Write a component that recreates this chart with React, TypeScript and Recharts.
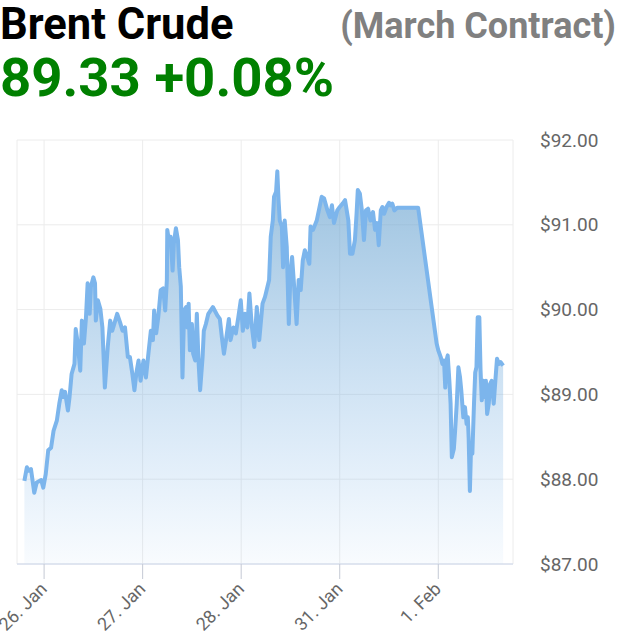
import React from 'react';
import { AreaChart, Area, XAxis, YAxis, CartesianGrid } from 'recharts';

// [hours since 26 Jan session tick, price]
const SESSION_26_JAN: [number, number][] = [
  [-4.8, 87.98], [-4.2, 88.14], [-3.7, 88.10], [-3.2, 88.12], [-2.8, 87.98], [-2.4, 87.84],
  [-1.8, 87.96], [-0.7, 87.99], [-0.2, 87.90], [0.4, 88.06], [1.0, 88.34], [1.7, 88.37],
  [2.3, 88.57], [3.1, 88.69], [3.7, 88.89], [4.3, 89.05], [4.7, 88.97], [5.1, 89.03],
  [5.8, 88.81], [6.2, 88.97], [6.7, 89.24], [7.4, 89.36], [7.7, 89.77], [8.2, 89.60],
  [8.8, 89.28], [9.2, 89.87], [9.7, 89.60], [10.2, 89.91], [10.6, 90.31], [11.1, 89.95],
  [11.4, 90.27], [12.0, 90.38], [12.4, 90.31], [12.6, 89.87], [13.1, 90.11], [13.7, 90.01],
  [14.2, 89.79], [14.8, 89.08], [15.5, 89.56], [16.1, 89.87], [16.6, 89.75], [17.2, 89.85],
  [17.8, 89.95], [18.5, 89.85], [19.1, 89.75], [19.7, 89.79], [20.4, 89.44], [20.9, 89.44],
  [21.5, 89.24], [22.0, 89.05], [22.5, 89.26], [23.0, 89.40], [23.5, 89.16],
];
const SESSION_27_JAN: [number, number][] = [
  [24.2, 89.40], [24.8, 89.20], [25.4, 89.48], [26.0, 89.75], [26.5, 89.64], [26.8, 89.99],
  [27.3, 89.72], [27.8, 89.91], [28.4, 90.23], [29.0, 90.25], [29.5, 89.99], [29.9, 90.35],
  [30.0, 90.94], [30.5, 90.78], [30.8, 90.86], [31.3, 90.46], [31.6, 90.78], [32.1, 90.96],
  [32.6, 90.82], [32.9, 90.50], [33.3, 90.27], [33.7, 89.20], [34.1, 89.99], [34.6, 90.03],
  [34.9, 89.79], [35.2, 90.07], [35.5, 89.52], [36.0, 89.83], [36.3, 89.48], [36.8, 89.40],
  [37.2, 89.95], [37.6, 89.40], [38.0, 89.05], [38.6, 89.44], [38.9, 89.75], [39.4, 89.83],
  [40.0, 89.95], [41.1, 90.03], [42.2, 89.93], [42.8, 89.89], [43.3, 89.67], [43.8, 89.48],
  [44.3, 89.64], [45.0, 89.89], [45.4, 89.64], [46.1, 89.79], [46.7, 89.72], [47.3, 89.91],
  [47.9, 90.11],
];
const SESSION_28_JAN: [number, number][] = [
  [48.4, 89.75], [48.9, 89.95], [49.5, 89.79], [50.0, 90.19], [50.6, 89.80], [51.2, 89.56],
  [51.8, 90.03], [52.4, 89.64], [53.2, 90.07], [53.8, 90.15], [54.4, 90.27], [54.8, 90.35],
  [55.2, 90.86], [55.7, 91.05], [56.0, 91.33], [56.5, 91.39], [56.8, 91.63], [57.1, 91.29],
  [57.4, 91.05], [57.9, 90.98], [58.2, 90.50], [58.6, 91.05], [59.1, 90.74], [59.6, 89.83],
  [60.0, 90.43], [60.4, 90.62], [60.9, 90.27], [61.5, 89.83], [62.0, 90.35], [62.5, 90.23],
  [63.0, 90.58], [63.5, 90.70], [64.1, 90.62], [64.6, 90.54], [64.9, 90.98], [65.5, 90.94],
  [66.4, 91.05], [67.6, 91.33], [68.2, 91.31], [69.0, 91.17], [69.6, 91.09], [70.1, 91.23],
  [70.6, 91.02], [71.4, 91.17],
];
const SESSION_31_JAN: [number, number][] = [
  [72.0, 91.21], [72.7, 91.25], [73.3, 91.29], [73.7, 91.17], [74.1, 91.05], [74.5, 90.66],
  [75.1, 90.66], [75.7, 90.82], [76.1, 91.13], [76.4, 91.41], [76.9, 91.37], [77.4, 91.17],
  [77.9, 90.82], [78.4, 91.17], [78.9, 91.19], [79.5, 91.05], [80.1, 91.15], [80.6, 90.94],
  [81.1, 91.02], [81.5, 90.76], [82.0, 91.17], [82.4, 91.21], [82.8, 91.13], [83.4, 91.21],
  [84.0, 91.26], [84.4, 91.23], [84.8, 91.25], [85.3, 91.17], [86.0, 91.20], [91.1, 91.20],
  [95.6, 89.60],
];
const SESSION_1_FEB: [number, number][] = [
  [96.0, 89.52], [96.6, 89.44], [97.0, 89.36], [97.4, 89.40], [97.7, 89.08], [98.0, 89.40],
  [98.3, 89.46], [98.7, 89.16], [99.0, 88.89], [99.3, 88.26], [99.8, 88.36], [100.1, 88.57],
  [100.5, 88.89], [100.9, 89.32], [101.3, 89.20], [101.6, 89.05], [102.1, 88.73], [102.5, 88.85],
  [102.9, 88.65], [103.2, 88.73], [103.4, 88.49], [103.7, 87.86], [104.0, 88.41], [104.3, 88.30],
  [104.7, 88.89], [105.0, 89.26], [105.3, 89.32], [105.6, 89.91], [106.0, 89.91], [106.3, 89.28],
  [106.6, 88.93], [107.0, 89.16], [107.3, 88.97], [107.6, 89.16], [107.9, 88.77], [108.3, 88.89],
  [108.6, 89.12], [109.0, 89.16], [109.5, 88.89], [109.9, 89.16], [110.3, 89.42], [110.8, 89.36],
  [111.2, 89.38], [111.8, 89.34],
];

const X_TICKS = [0, 24, 48, 72, 96];
const X_LABELS = ['26. Jan', '27. Jan', '28. Jan', '31. Jan', '1. Feb'];
const Y_TICKS = [87, 88, 89, 90, 91, 92];
const TITLE = 'Brent Crude';
const SUBTITLE = '(March Contract)';
const LAST_PRICE = '89.33';
const CHANGE = '+0.08%';

const data = [
  ...SESSION_26_JAN, ...SESSION_27_JAN, ...SESSION_28_JAN, ...SESSION_31_JAN, ...SESSION_1_FEB,
].map(([h, p]) => ({ h, p }));

const FONT = 'Roboto, "Noto Sans", sans-serif';

const XTick = (props: any) => {
  const { x, y, payload } = props;
  const idx = X_TICKS.indexOf(payload.value);
  return (
    <g transform={`translate(${x + 4},${y + 11})`}>
      <text textAnchor="end" transform="rotate(-45)" fill="#666666" fontSize={18} fontFamily={FONT}>
        {X_LABELS[idx]}
      </text>
    </g>
  );
};

const YTick = (props: any) => {
  const { x, y, payload } = props;
  return (
    <text x={x} y={y} dy="0.35em" textAnchor="start" fill="#666666" fontSize={19} fontFamily={FONT}>
      {`$${Number(payload.value).toFixed(2)}`}
    </text>
  );
};

export default function App() {
  return (
    <div style={{ position: 'absolute', left: 0, top: 0, width: 622, height: 636, background: '#ffffff' }}>
      <AreaChart width={622} height={636} data={data} margin={{ top: 140, right: 0, bottom: 0, left: 17 }}>
        <defs>
          <linearGradient id="brentFill" x1="0" y1="0" x2="0" y2="1">
            <stop offset="0%" stopColor="#6fa6cf" stopOpacity={0.7} />
            <stop offset="100%" stopColor="#7cb5ec" stopOpacity={0.05} />
          </linearGradient>
        </defs>
        <CartesianGrid stroke="#ececec" strokeWidth={1} />
        <XAxis
          dataKey="h"
          type="number"
          domain={[-6.6, 114.2]}
          allowDataOverflow
          ticks={X_TICKS}
          interval={0}
          height={72}
          tickSize={15}
          tickMargin={0}
          stroke="#ccd6eb"
          tickLine={{ stroke: '#c4c9d4' }}
          tick={<XTick />}
        />
        <YAxis
          orientation="right"
          type="number"
          domain={[87, 92]}
          ticks={Y_TICKS}
          interval={0}
          width={109}
          axisLine={false}
          tickLine={false}
          tickSize={0}
          tickMargin={27}
          tick={<YTick />}
        />
        <Area
          type="linear"
          dataKey="p"
          stroke="#7cb5ec"
          strokeWidth={4}
          strokeLinejoin="round"
          fill="url(#brentFill)"
          fillOpacity={1}
          dot={false}
          activeDot={false}
          isAnimationActive={false}
        />
      </AreaChart>
      <svg width={622} height={110} style={{ position: 'absolute', left: 0, top: 0 }}>
        <text x={0} y={39} fontFamily={FONT} fontWeight={700} fontSize={43.5} fill="#000000">{TITLE}</text>
        <text x={616} y={38} textAnchor="end" fontFamily={FONT} fontWeight={700} fontSize={36} fill="#808080">{SUBTITLE}</text>
        <text x={0} y={96} fontFamily={FONT} fontWeight={700} fontSize={54.5} fill="#008000">{`${LAST_PRICE} ${CHANGE}`}</text>
      </svg>
    </div>
  );
}
